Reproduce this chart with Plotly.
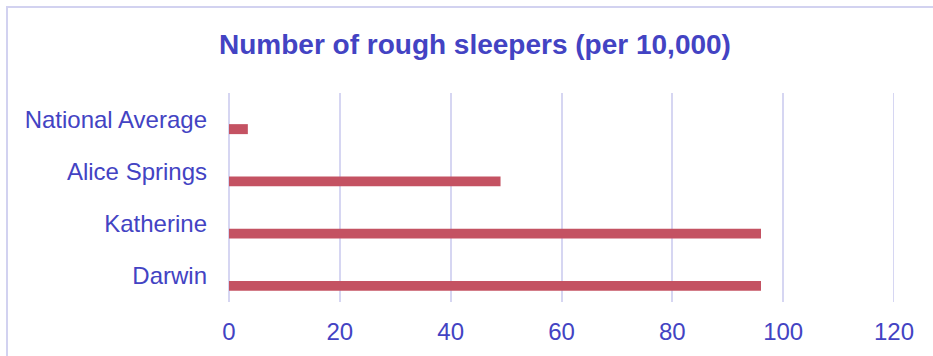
import plotly.graph_objects as go

# Rough sleepers per 10,000 people
categories = ["Darwin", "Katherine", "Alice Springs", "National Average"]
values = [96.0, 96.0, 49.0, 3.4]
x_ticks = [0, 20, 40, 60, 80, 100, 120]

title_text = "Number of rough sleepers (per 10,000)"
label_color = "#4343C3"
bar_color = "#C45262"
grid_color = "#D6D6F2"
frame_color = "#D2D2F0"
font_family = "Arial, Liberation Sans, sans-serif"

W, H = 933, 356
ml, mr, mt, mb = 229, 39, 93, 54
pw, ph = W - ml - mr, H - mt - mb

fig = go.Figure()
fig.add_trace(go.Bar(
    y=categories,
    x=values,
    orientation="h",
    marker=dict(color=bar_color, line=dict(width=0)),
    width=0.191,
    offset=-0.287,
    hoverinfo="x+y",
))

def px_to_paper_x(px):
    return (px - ml) / pw

def px_to_paper_y(py):
    return 1 - (py - mt) / ph

fig.update_layout(
    width=W,
    height=H,
    margin=dict(l=ml, r=mr, t=mt, b=mb),
    paper_bgcolor="white",
    plot_bgcolor="white",
    showlegend=False,
    font=dict(family=font_family, color=label_color, size=24),
    xaxis=dict(
        range=[0, 120],
        tickvals=x_ticks,
        ticktext=[str(v) for v in x_ticks],
        showgrid=True,
        gridcolor=grid_color,
        gridwidth=2,
        zeroline=True,
        zerolinecolor=grid_color,
        zerolinewidth=2,
        showline=False,
        ticks="",
        ticklabelstandoff=13,
        tickfont=dict(size=24, color=label_color),
        fixedrange=True,
    ),
    yaxis=dict(
        categoryorder="array",
        categoryarray=categories,
        showgrid=False,
        zeroline=False,
        showline=False,
        ticks="",
        ticklabelstandoff=21,
        tickfont=dict(size=24, color=label_color),
        fixedrange=True,
    ),
    annotations=[
        dict(
            text="<b>" + title_text + "</b>",
            x=px_to_paper_x(475),
            y=px_to_paper_y(44),
            xref="paper",
            yref="paper",
            xanchor="center",
            yanchor="middle",
            showarrow=False,
            font=dict(size=28, color=label_color, family=font_family),
        )
    ],
    shapes=[
        dict(
            type="rect",
            xref="paper",
            yref="paper",
            x0=px_to_paper_x(7),
            x1=px_to_paper_x(W + 20),
            y0=px_to_paper_y(H + 20),
            y1=px_to_paper_y(7),
            line=dict(color=frame_color, width=2),
            fillcolor="rgba(0,0,0,0)",
            layer="below",
        ),
        # closing gridline at the top of the value range
        dict(
            type="line",
            xref="x",
            yref="paper",
            x0=x_ticks[-1],
            x1=x_ticks[-1],
            y0=0,
            y1=1,
            line=dict(color=grid_color, width=2),
            layer="below",
        ),
    ],
)

fig.write_html("out.html")
